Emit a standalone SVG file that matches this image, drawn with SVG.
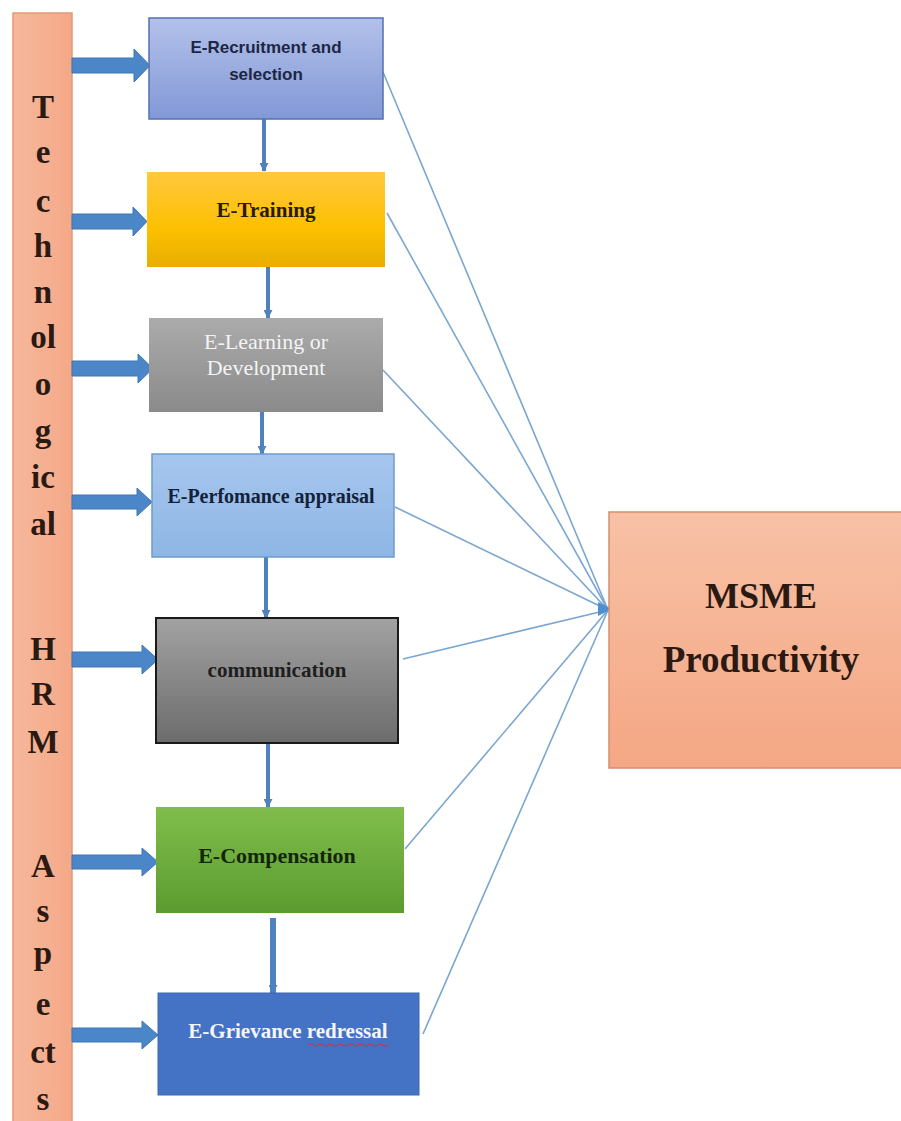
<svg xmlns="http://www.w3.org/2000/svg" width="901" height="1121" viewBox="0 0 901 1121">
<defs>
<linearGradient id="gBar" x1="0" y1="0" x2="1" y2="0"><stop offset="0" stop-color="#f6b79c"/><stop offset="1" stop-color="#f4a988"/></linearGradient>
<linearGradient id="g1" x1="0" y1="0" x2="0" y2="1"><stop offset="0" stop-color="#b3c1ea"/><stop offset="1" stop-color="#8298d6"/></linearGradient>
<linearGradient id="g2" x1="0" y1="0" x2="0" y2="1"><stop offset="0" stop-color="#ffc83d"/><stop offset="0.6" stop-color="#fcc000"/><stop offset="1" stop-color="#e8ad00"/></linearGradient>
<linearGradient id="g3" x1="0" y1="0" x2="0" y2="1"><stop offset="0" stop-color="#ababab"/><stop offset="1" stop-color="#8a8a8a"/></linearGradient>
<linearGradient id="g4" x1="0" y1="0" x2="0" y2="1"><stop offset="0" stop-color="#a6c6ee"/><stop offset="1" stop-color="#8eb6e4"/></linearGradient>
<linearGradient id="g5" x1="0" y1="0" x2="0" y2="1"><stop offset="0" stop-color="#a2a2a2"/><stop offset="1" stop-color="#6c6c6c"/></linearGradient>
<linearGradient id="g6" x1="0" y1="0" x2="0" y2="1"><stop offset="0" stop-color="#80bd4c"/><stop offset="1" stop-color="#5b9b2f"/></linearGradient>
<linearGradient id="gM" x1="0" y1="0" x2="0" y2="1"><stop offset="0" stop-color="#f8c1a6"/><stop offset="1" stop-color="#f4a784"/></linearGradient>
<marker id="mv" viewBox="0 0 10 10" refX="9" refY="5" markerWidth="9" markerHeight="9" orient="auto" markerUnits="userSpaceOnUse"><path d="M0,0 L10,5 L0,10 z" fill="#4f81bd"/></marker>
</defs>
<style>
.bar{font-family:"Liberation Serif",serif;font-weight:bold;font-size:33px;fill:#2b1a12;text-anchor:middle}
.sans{font-family:"Liberation Sans",Arial,sans-serif;font-weight:bold;font-size:17px;text-anchor:middle}
.serif{font-family:"Liberation Serif",serif;text-anchor:middle}
.blk{fill:#4a86c8;stroke:#3f77b5;stroke-width:1}
.vc{stroke:#4f81bd;stroke-width:4;fill:none}
.fan{stroke:#7aa6d2;stroke-width:1.6;fill:none}
</style>
<rect width="901" height="1121" fill="#ffffff"/>

<g id="bar">
<rect x="13" y="13" width="59" height="1115" fill="url(#gBar)" stroke="#e39a78" stroke-width="1.5"/>
<text class="bar" x="43" y="118">T</text>
<text class="bar" x="43" y="163">e</text>
<text class="bar" x="43" y="212">c</text>
<text class="bar" x="43" y="257">h</text>
<text class="bar" x="43" y="303">n</text>
<text class="bar" x="43" y="348">ol</text>
<text class="bar" x="43" y="395">o</text>
<text class="bar" x="43" y="442">g</text>
<text class="bar" x="43" y="488">ic</text>
<text class="bar" x="43" y="535">al</text>
<text class="bar" x="43" y="660">H</text>
<text class="bar" x="43" y="705">R</text>
<text class="bar" x="43" y="753">M</text>
<text class="bar" x="43" y="877">A</text>
<text class="bar" x="43" y="922">s</text>
<text class="bar" x="43" y="964">p</text>
<text class="bar" x="43" y="1015">e</text>
<text class="bar" x="43" y="1063">ct</text>
<text class="bar" x="43" y="1110">s</text>
</g>

<g id="connectors">
<path class="blk" d="M72,58 H134 V49 L150,65.5 L134,82 V73 H72 Z"/>
<path class="blk" d="M72,214 H133 V207 L147,221.5 L133,236 V229 H72 Z"/>
<path class="blk" d="M72,361 H138 V354 L153,368.5 L138,383 V376 H72 Z"/>
<path class="blk" d="M72,495 H137 V488 L152,502 L137,516 V509 H72 Z"/>
<path class="blk" d="M72,652 H142 V645 L158,659.5 L142,674 V667 H72 Z"/>
<path class="blk" d="M72,855 H142 V848 L158,862 L142,876 V869 H72 Z"/>
<path class="blk" d="M72,1028 H142 V1021 L158,1035 L142,1049 V1042 H72 Z"/>

<line class="vc" x1="264" y1="119" x2="264" y2="171" marker-end="url(#mv)"/>
<line class="vc" x1="268" y1="267" x2="268" y2="318" marker-end="url(#mv)"/>
<line class="vc" x1="262" y1="412" x2="262" y2="454" marker-end="url(#mv)"/>
<line class="vc" x1="266" y1="557" x2="266" y2="618" marker-end="url(#mv)"/>
<line class="vc" x1="268" y1="720" x2="268" y2="807" marker-end="url(#mv)" stroke="#5a8cc4"/>
<line x1="273" y1="918" x2="273" y2="993" stroke="#4f81bd" stroke-width="6" marker-end="url(#mv)"/>

<line class="fan" x1="383" y1="72" x2="608" y2="610"/>
<line class="fan" x1="387" y1="213" x2="608" y2="610"/>
<line class="fan" x1="383" y1="370" x2="608" y2="610"/>
<line class="fan" x1="395" y1="507" x2="608" y2="610"/>
<line class="fan" x1="403" y1="659" x2="608" y2="610"/>
<line class="fan" x1="405" y1="849" x2="608" y2="610"/>
<line class="fan" x1="423" y1="1034" x2="608" y2="610"/>
<path d="M598,602 L612,609 L598,616 Z" fill="#4f8fcf"/>
</g>

<g id="n1">
<rect x="149" y="18" width="234" height="101" fill="url(#g1)" stroke="#5470b0" stroke-width="1.5"/>
<text class="sans" x="266" y="53" fill="#1c2744">E-Recruitment and</text>
<text class="sans" x="266" y="80" fill="#1c2744">selection</text>
</g>
<g id="n2">
<rect x="147" y="172" width="238" height="95" fill="url(#g2)"/>
<text class="serif" x="266" y="217" font-size="21" font-weight="bold" fill="#2a1a08">E-Training</text>
</g>
<g id="n3">
<rect x="149" y="318" width="234" height="94" fill="url(#g3)"/>
<text class="serif" x="266" y="349" font-size="22" fill="#f4f4f4">E-Learning or</text>
<text class="serif" x="266" y="375" font-size="22" fill="#f4f4f4">Development</text>
</g>
<g id="n4">
<rect x="152" y="454" width="242" height="103" fill="url(#g4)" stroke="#6e9ad0" stroke-width="1.5"/>
<text class="serif" x="271" y="503" font-size="20" font-weight="bold" fill="#14213a">E-Perfomance appraisal</text>
</g>
<g id="n5">
<rect x="156" y="618" width="242" height="125" fill="url(#g5)" stroke="#1a1a1a" stroke-width="2"/>
<text class="serif" x="277" y="677" font-size="21" font-weight="bold" fill="#1e1e1e">communication</text>
</g>
<g id="n6">
<rect x="156" y="807" width="248" height="106" fill="url(#g6)"/>
<text class="serif" x="277" y="863" font-size="22" font-weight="bold" fill="#14260a">E-Compensation</text>
</g>
<g id="n7">
<rect x="158" y="993" width="261" height="102" fill="#4472c4" stroke="#3d66b0" stroke-width="1"/>
<text class="serif" x="288" y="1038" font-size="21" font-weight="bold" fill="#f4f6fb">E-Grievance redressal</text>
<path d="M308,1045 q2.5,-2 5,0 t5,0 t5,0 t5,0 t5,0 t5,0 t5,0 t5,0 t5,0 t5,0 t5,0 t5,0 t5,0 t5,0 t5,0 t5,0" fill="none" stroke="#c8354e" stroke-width="1.2"/>
</g>
<g id="msme">
<rect x="609" y="512" width="300" height="256" fill="url(#gM)" stroke="#d58f6c" stroke-width="1.5"/>
<text class="serif" x="761" y="608" font-size="36" font-weight="bold" fill="#2b1a12">MSME</text>
<text class="serif" x="761" y="672" font-size="37" font-weight="bold" fill="#2b1a12">Productivity</text>
</g>
</svg>
